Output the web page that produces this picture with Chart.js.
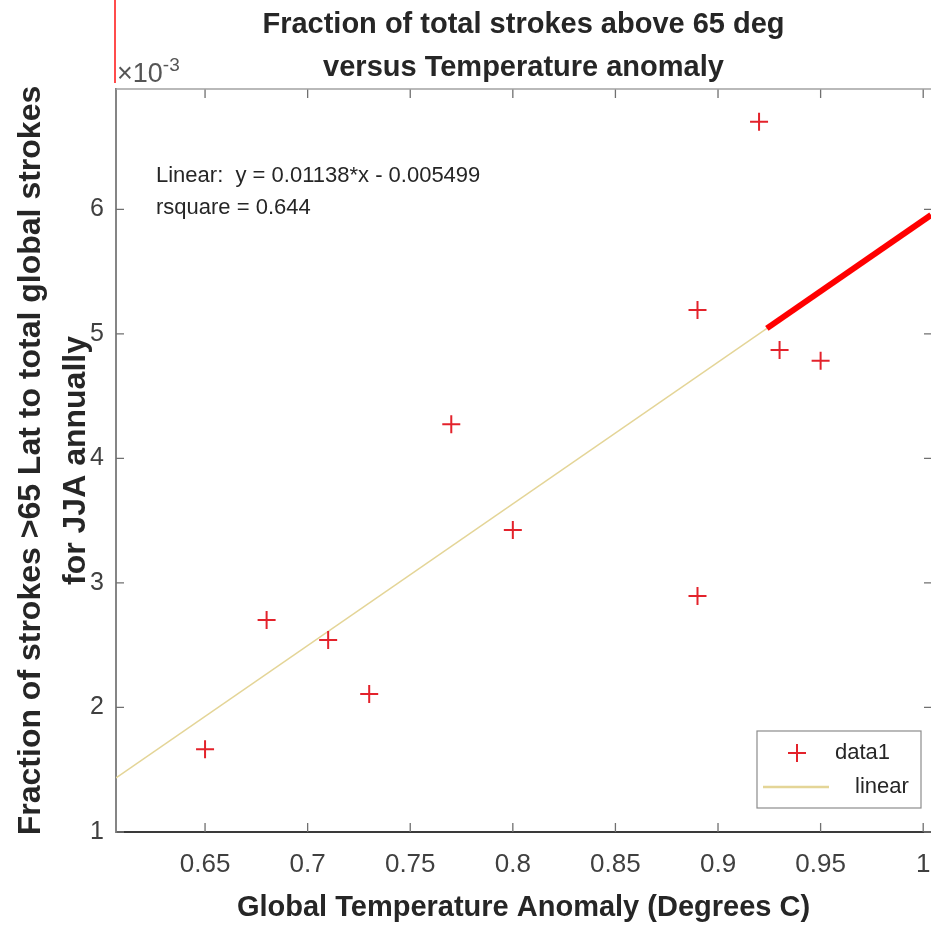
<!DOCTYPE html>
<html><head><meta charset="utf-8">
<style>html,body{margin:0;padding:0;background:#fff;overflow:hidden}canvas{display:block}</style>
<script src="https://cdn.jsdelivr.net/npm/chart.js@4.4.0/dist/chart.umd.min.js"></script>
</head><body>
<canvas id="c" width="931" height="925"></canvas>
<script>
// ---- data ----
const anomalyX = [0.65, 0.68, 0.71, 0.73, 0.77, 0.80, 0.89, 0.89, 0.92, 0.93, 0.95];
const fractionY = [1.664e-3, 2.702e-3, 2.542e-3, 2.108e-3, 4.274e-3, 3.425e-3, 5.191e-3, 2.895e-3, 6.703e-3, 4.870e-3, 4.784e-3];
const fitX = [0.6066, 1.0038];
const fitY = [1.434e-3, 5.954e-3];
const highlightX = [0.9238, 1.0038];
const highlightY = [5.044e-3, 5.954e-3];
const xTicks = [0.65, 0.7, 0.75, 0.8, 0.85, 0.9, 0.95, 1];
const xTickLabels = ['0.65', '0.7', '0.75', '0.8', '0.85', '0.9', '0.95', '1'];
const yTicks = [0.001, 0.002, 0.003, 0.004, 0.005, 0.006];
const yTickLabels = ['1', '2', '3', '4', '5', '6'];
const xRange = [0.6066, 1.0038];
const yRange = [0.001, 0.006966];
const titleLines = ['Fraction of total strokes above 65 deg', 'versus Temperature anomaly'];
const yTitleLines = ['Fraction of strokes >65 Lat to total global strokes', 'for JJA annually'];
const xTitle = 'Global Temperature Anomaly (Degrees C)';
const fitText = ['Linear:  y = 0.01138*x - 0.005499', 'rsquare = 0.644'];
const legendLabels = ['data1', 'linear'];

const FONT = '"Liberation Sans", Arial, Helvetica, sans-serif';
const MARK = '#e3222b';
const FITC = '#e4d597';
const TXT = '#262626';

function noPad(s) { s.paddingLeft = 0; s.paddingRight = 0; s.paddingTop = 0; s.paddingBottom = 0; }

const decor = {
  id: 'decor',
  beforeDatasetsDraw(chart) {
    const {ctx, chartArea: a, scales: {x, y}} = chart;
    ctx.save();
    ctx.strokeStyle = '#707070';
    ctx.lineWidth = 1.3;
    ctx.beginPath();
    xTicks.forEach(v => {
      const px = x.getPixelForValue(v);
      ctx.moveTo(px, a.bottom); ctx.lineTo(px, a.bottom - 9);
      ctx.moveTo(px, a.top); ctx.lineTo(px, a.top + 9);
    });
    yTicks.forEach(v => {
      const py = y.getPixelForValue(v);
      ctx.moveTo(a.left, py); ctx.lineTo(a.left + 8, py);
      ctx.moveTo(a.right, py); ctx.lineTo(a.right - 7, py);
    });
    ctx.stroke();
    ctx.strokeStyle = '#a2a2a2';
    ctx.lineWidth = 1.5;
    ctx.beginPath();
    ctx.moveTo(a.left, a.top); ctx.lineTo(a.right, a.top);
    ctx.stroke();
    ctx.restore();
  },
  afterDraw(chart) {
    const {ctx, chartArea: a} = chart;
    ctx.save();
    // exponent label
    ctx.fillStyle = '#555';
    ctx.textBaseline = 'alphabetic';
    ctx.textAlign = 'left';
    ctx.font = '27px ' + FONT;
    ctx.fillText('\u00d710', a.left + 1, a.top - 7);
    const w = ctx.measureText('\u00d710').width;
    ctx.font = '19px ' + FONT;
    ctx.fillText('-3', a.left + 1 + w, a.top - 18);
    // annotation mark (red vertical line)
    ctx.strokeStyle = '#ff1010';
    ctx.lineWidth = 1.5;
    ctx.beginPath();
    ctx.moveTo(a.left - 1, 0); ctx.lineTo(a.left - 1, a.top - 6);
    ctx.stroke();
    // fit text
    ctx.fillStyle = TXT;
    ctx.font = '22px ' + FONT;
    ctx.textBaseline = 'middle';
    ctx.fillText(fitText[0], a.left + 40, a.top + 87);
    ctx.fillText(fitText[1], a.left + 40, a.top + 119);
    // legend
    const bx = a.right - 174, by = a.bottom - 101, bw = 164, bh = 77;
    ctx.fillStyle = '#fff';
    ctx.fillRect(bx, by, bw, bh);
    ctx.strokeStyle = '#8c8c8c';
    ctx.lineWidth = 1.2;
    ctx.strokeRect(bx, by, bw, bh);
    const mx = bx + 40, my = by + 22;
    ctx.strokeStyle = MARK;
    ctx.lineWidth = 2;
    ctx.beginPath();
    ctx.moveTo(mx - 9, my); ctx.lineTo(mx + 9, my);
    ctx.moveTo(mx, my - 9); ctx.lineTo(mx, my + 9);
    ctx.stroke();
    ctx.strokeStyle = FITC;
    ctx.lineWidth = 2.5;
    ctx.beginPath();
    ctx.moveTo(bx + 6, by + 56); ctx.lineTo(bx + 72, by + 56);
    ctx.stroke();
    ctx.fillStyle = TXT;
    ctx.font = '22px ' + FONT;
    ctx.fillText(legendLabels[0], bx + 78, my);
    ctx.fillText(legendLabels[1], bx + 98, by + 56);
    ctx.restore();
  }
};

new Chart(document.getElementById('c'), {
  type: 'scatter',
  data: {
    datasets: [
      {
        label: legendLabels[0],
        data: anomalyX.map((v, i) => ({x: v, y: fractionY[i]})),
        pointStyle: 'cross', pointRadius: 9, pointBorderWidth: 2,
        borderColor: MARK, backgroundColor: MARK, showLine: false, order: 0
      },
      {
        label: 'highlight',
        data: highlightX.map((v, i) => ({x: v, y: highlightY[i]})),
        showLine: true, borderColor: '#ff0000', borderWidth: 6, pointRadius: 0, order: 1
      },
      {
        label: legendLabels[1],
        data: fitX.map((v, i) => ({x: v, y: fitY[i]})),
        showLine: true, borderColor: FITC, borderWidth: 1.6, pointRadius: 0, order: 2
      }
    ]
  },
  options: {
    responsive: false,
    animation: false,
    devicePixelRatio: 1,
    layout: {padding: 0, autoPadding: false},
    plugins: {
      legend: {display: false},
      tooltip: {enabled: false},
      title: {
        display: true, fullSize: false, text: titleLines, color: TXT,
        font: {family: FONT, size: 29, weight: 'bold', lineHeight: '43px'},
        padding: {top: 3, bottom: 0}
      }
    },
    scales: {
      x: {
        type: 'linear', min: xRange[0], max: xRange[1],
        afterBuildTicks: s => { s.ticks = xTicks.map(v => ({value: v})); },
        afterFit: s => { s.height = 93; noPad(s); },
        grid: {display: false, drawTicks: false},
        border: {display: true, color: '#3a3a3a', width: 2},
        ticks: {
          padding: 0, color: '#404040', maxRotation: 0, autoSkip: false,
          font: {family: FONT, size: 26, lineHeight: '66px'},
          callback: (v) => { const i = xTicks.findIndex(t => Math.abs(t - v) < 1e-9); return i >= 0 ? xTickLabels[i] : ''; }
        },
        title: {
          display: true, text: xTitle, color: TXT,
          font: {family: FONT, size: 29, weight: 'bold'},
          padding: {top: 0, bottom: 0}
        }
      },
      y: {
        type: 'linear', min: yRange[0], max: yRange[1],
        afterBuildTicks: s => { s.ticks = yTicks.map(v => ({value: v})); },
        afterFit: s => { s.width = 116; noPad(s); },
        grid: {display: false, drawTicks: false},
        border: {display: true, color: '#858585', width: 2},
        ticks: {
          padding: 12, color: '#404040', autoSkip: false,
          font: {family: FONT, size: 25},
          callback: (v) => { const i = yTicks.findIndex(t => Math.abs(t - v) < 1e-12); return i >= 0 ? yTickLabels[i] : ''; }
        },
        title: {
          display: true, text: yTitleLines, color: TXT,
          font: {family: FONT, size: 32, weight: 'bold', lineHeight: '45px'},
          padding: {top: 8.5, bottom: 0}
        }
      }
    }
  },
  plugins: [decor]
});
</script>
</body></html>
